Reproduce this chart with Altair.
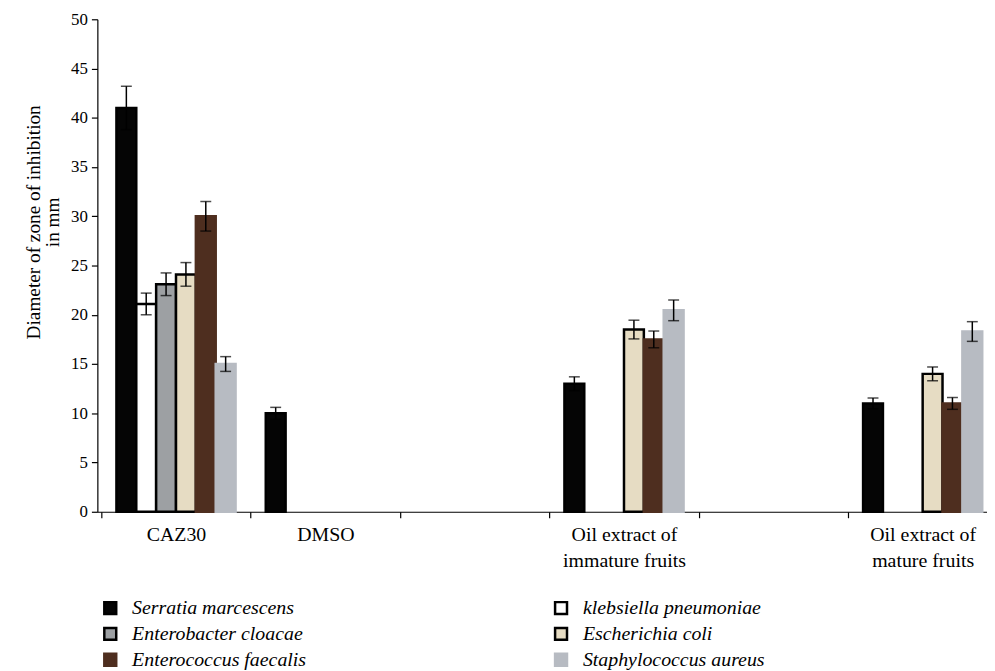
import altair as alt
import pandas as pd

# ---- data ----
categories = ["CAZ30", "DMSO", " ", "Oil extract of|immature fruits", "  ", "Oil extract of|mature fruits"]
series = ["Serratia marcescens", "klebsiella pneumoniae", "Enterobacter cloacae",
          "Escherichia coli", "Enterococcus faecalis", "Staphylococcus aureus"]
# legend reading order (two columns, filled column by column)
legend_order = ["Serratia marcescens", "Enterobacter cloacae", "Enterococcus faecalis",
                "klebsiella pneumoniae", "Escherichia coli", "Staphylococcus aureus"]

serratia      = [41.0, 10.0, None, 13.0, None, 11.0]
serratia_err  = [2.2, 0.6, None, 0.7, None, 0.55]
klebsiella    = [21.1, None, None, None, None, None]
klebsiella_err = [1.1, None, None, None, None, None]
enterobacter  = [23.1, None, None, None, None, None]
enterobacter_err = [1.15, None, None, None, None, None]
ecoli         = [24.1, None, None, 18.5, None, 14.0]
ecoli_err     = [1.2, None, None, 0.95, None, 0.7]
efaecalis     = [30.0, None, None, 17.5, None, 11.0]
efaecalis_err = [1.5, None, None, 0.85, None, 0.6]
staph         = [15.0, None, None, 20.45, None, 18.3]
staph_err     = [0.75, None, None, 1.05, None, 1.0]

fill_by_series = {
    "Serratia marcescens": "#050505",
    "klebsiella pneumoniae": "#ffffff",
    "Enterobacter cloacae": "#9da0a3",
    "Escherichia coli": "#e6dcc3",
    "Enterococcus faecalis": "#4e2e1f",
    "Staphylococcus aureus": "#b7bbc2",
}
stroke_by_series = {
    "Serratia marcescens": "#000000",
    "klebsiella pneumoniae": "#000000",
    "Enterobacter cloacae": "#000000",
    "Escherichia coli": "#000000",
    "Enterococcus faecalis": "#4e2e1f",
    "Staphylococcus aureus": "#b7bbc2",
}

values = [serratia, klebsiella, enterobacter, ecoli, efaecalis, staph]
errors = [serratia_err, klebsiella_err, enterobacter_err, ecoli_err, efaecalis_err, staph_err]

rows = []
for s, vals, errs in zip(series, values, errors):
    for c, v, e in zip(categories, vals, errs):
        if v is None:
            continue
        rows.append({"cat": c, "series": s, "value": v, "lo": v - e, "hi": v + e})
df = pd.DataFrame(rows)

FONT = "Liberation Serif"

x_enc = alt.X(
    "cat:N",
    sort=categories,
    scale=alt.Scale(domain=categories, range=[0, 910.4], paddingInner=0, paddingOuter=0.0266),
    axis=alt.Axis(
        title=None, labelAngle=0, tickBand="extent",
        labelExpr="split(datum.label, '|')",
        labelFont=FONT, labelFontSize=20, labelColor="black", labelLineHeight=26,
        labelPadding=7, tickSize=6, tickColor="black", tickWidth=1.2,
        domainColor="black", domainWidth=1.2, labelOverlap=False,
    ),
)
xo_enc = alt.XOffset("series:N", scale=alt.Scale(domain=series, paddingInner=0, paddingOuter=0.76))
y_scale = alt.Scale(domain=[0, 50], nice=False)

bars = alt.Chart(df).mark_bar(strokeWidth=2.5).encode(
    x=x_enc,
    xOffset=xo_enc,
    y=alt.Y(
        "value:Q", scale=y_scale,
        axis=alt.Axis(
            values=list(range(0, 51, 5)), grid=False,
            title=["Diameter of zone of inhibition", "in mm"],
            titleFont=FONT, titleFontSize=19.4, titleFontWeight="normal", titleColor="black",
            titleAngle=270, titleX=-64, titleY=204, titleAlign="center", titleBaseline="middle",
            titleLineHeight=19,
            labelFont=FONT, labelFontSize=17, labelColor="black", labelPadding=4,
            tickSize=6, tickColor="black", tickWidth=1.2, domainColor="black", domainWidth=1.2,
        ),
    ),
    fill=alt.Fill(
        "series:N",
        scale=alt.Scale(domain=legend_order, range=[fill_by_series[s] for s in legend_order]),
        legend=alt.Legend(
            title=None, orient="none", legendX=3, legendY=583, columns=2,
            columnPadding=245, rowPadding=4, padding=0,
            symbolType="square", symbolSize=144, symbolStrokeWidth=2.5,
            labelFont=FONT, labelFontSize=20, labelFontStyle="italic", labelColor="black",
            labelOffset=12, labelLimit=400,
        ),
    ),
    stroke=alt.Stroke(
        "series:N",
        scale=alt.Scale(domain=legend_order, range=[stroke_by_series[s] for s in legend_order]),
    ),
)

err_rule = alt.Chart(df).mark_rule(color="black", strokeWidth=1.5).encode(
    x=x_enc, xOffset=xo_enc, y=alt.Y("lo:Q", scale=y_scale), y2="hi:Q"
)
cap_lo = alt.Chart(df).mark_tick(color="black", thickness=1.5, size=11).encode(
    x=x_enc, xOffset=xo_enc, y=alt.Y("lo:Q", scale=y_scale)
)
cap_hi = alt.Chart(df).mark_tick(color="black", thickness=1.5, size=11).encode(
    x=x_enc, xOffset=xo_enc, y=alt.Y("hi:Q", scale=y_scale)
)

chart = alt.layer(bars, err_rule, cap_lo, cap_hi).properties(
    width=896, height=496,
    autosize=alt.AutoSizeParams(type="none"),
    padding={"left": 90, "top": 9, "right": 0, "bottom": 158},
    background="white",
).configure_view(stroke=None)

chart.save("out.html", embed_options={"renderer": "svg", "actions": False})
